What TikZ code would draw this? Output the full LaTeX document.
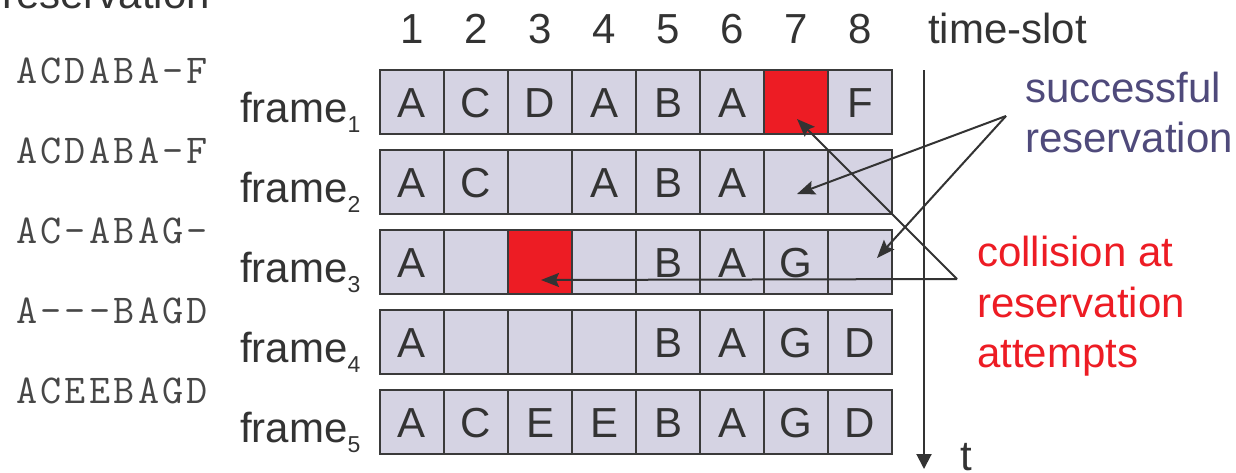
\documentclass[tikz,border=0pt]{standalone}
\usepackage{fontspec}
\setmainfont{Liberation Sans}
\newfontfamily\courierish[LetterSpace=8]{Latin Modern Mono}
\usetikzlibrary{arrows.meta,calc}
\definecolor{txt}{HTML}{333333}
\definecolor{cellfill}{HTML}{D5D3E3}
\definecolor{celldraw}{HTML}{3A3A3A}
\definecolor{collred}{HTML}{ED1C24}
\definecolor{succblue}{HTML}{4F4A7B}
\tikzset{
  big/.style={font=\fontsize{42}{51}\selectfont, text=txt, inner sep=0pt},
  mono/.style={font=\fontsize{41}{41}\selectfont\courierish, text=txt!90, inner sep=0pt, anchor=base west},
  cell/.style={draw=celldraw, line width=2pt, fill=cellfill, minimum width=64pt, minimum height=64pt,
    inner sep=0pt, font=\fontsize{42}{42}\selectfont, text=txt, text height=30pt, text depth=0pt},
  redcell/.style={cell, fill=collred},
  conn/.style={draw=txt, line width=2pt, -{Stealth[length=18pt,width=14pt,inset=3pt]}},
}
\newcommand{\framelbl}[1]{frame\raisebox{-10pt}{\fontsize{23}{23}\selectfont #1}}
\begin{document}
\begin{tikzpicture}[x=1pt,y=-1pt]
\useasboundingbox (0,0) rectangle (1236,472);
\clip (0,0) rectangle (1236,472);

\node[big, anchor=base west] (rsv) at (2,8) {reservation};

% column numbers
\foreach \c in {1,...,8} {
  \node[big, anchor=base] (num\c) at ({380+64*(\c-0.5)},43) {\c};
}
\node[big, anchor=base west] (tslot) at (928,43) {time-slot};

% rows
\foreach \r/\lst/\ms in {
  1/{A,C,D,A,B,A,,F}/ACDABA-F,
  2/{A,C,,A,B,A,,}/ACDABA-F,
  3/{A,,,,B,A,G,}/AC-ABAG-,
  4/{A,,,,B,A,G,D}/A---BAGD,
  5/{A,C,E,E,B,A,G,D}/ACEEBAGD} {
  \pgfmathsetmacro{\yc}{102+80*(\r-1)}
  \foreach \t [count=\c] in \lst {
    \node[cell] (c\r\c) at ({380+64*(\c-0.5)},\yc) {\t};
  }
  \node[mono] (ms\r) at (16,{83+80*(\r-1)}) {\ms};
  \node[big, anchor=base west] (fr\r) at (240,{122+80*(\r-1)}) {\framelbl{\r}};
}
% red collision cells
\node[redcell] (c17) at ({380+64*6.5},102) {};
\node[redcell] (c33) at ({380+64*2.5},262) {};

% time axis
\coordinate (ttop) at (924,70);
\coordinate (tbot) at (924,469);
\draw[draw=txt, line width=2pt, -{Triangle[length=15pt,width=15pt]}] (ttop) -- (tbot);
\node[big, anchor=base west] (tlbl) at (960,470) {t};

% successful reservation
\node[big, anchor=base west, text=succblue] (succ1) at (1025,102) {successful};
\node[big, anchor=base west, text=succblue] (succ2) at (1025,152) {reservation};
\coordinate (succsrc) at (1006,116);
\draw[conn] (succsrc) -- ($(c27.center)+(1,12)$);
\draw[conn] (succsrc) -- ($(c38.center)+(17,-4)$);

% collision
\node[big, anchor=base west, text=collred] (coll1) at (977,266) {collision at};
\node[big, anchor=base west, text=collred] (coll2) at (977,317) {reservation};
\node[big, anchor=base west, text=collred] (coll3) at (977,367) {attempts};
\coordinate (collsrc) at (957,279);
\draw[conn] (collsrc) -- ($(c17.center)+(1,17)$);
\draw[conn] (collsrc) -- ($(c33.center)+(1,18)$);
\end{tikzpicture}
\end{document}
